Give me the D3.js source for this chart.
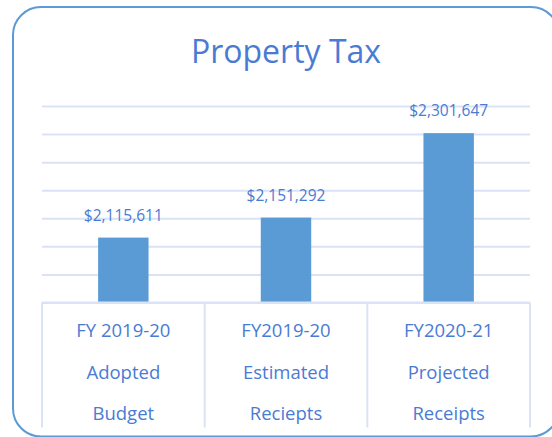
<!DOCTYPE html>
<html>
<head>
<meta charset="utf-8">
<script src="https://cdn.jsdelivr.net/npm/d3@7"></script>
<style>
  body { margin: 0; background: #fff; }
  text { font-family: "Open Sans", sans-serif; }
</style>
</head>
<body>
<div id="chart"></div>
<script>
var svgWidth = 552;
var svgHeight = 437;

// chart data
var categories = ["adopted", "estimated", "projected"];
var categoryLines = [
  ["FY 2019-20", "Adopted", "Budget"],
  ["FY2019-20", "Estimated", "Reciepts"],
  ["FY2020-21", "Projected", "Receipts"]
];
var values = [2115611, 2151292, 2301647];
var yTicks = [2000000, 2050000, 2100000, 2150000, 2200000, 2250000, 2300000, 2350000];

var margin = { top: 106, right: 22, bottom: 134.5, left: 42 };
var width = svgWidth - margin.left - margin.right;
var height = svgHeight - margin.top - margin.bottom;

var textColor = "#4a7bd4";
var gridColor = "#d9e3f5";

var svg = d3.select("#chart")
  .append("svg")
  .attr("width", svgWidth)
  .attr("height", svgHeight);

// outer rounded frame (runs past the right edge like the original)
svg.append("rect")
  .attr("x", 13)
  .attr("y", 7)
  .attr("width", 546)
  .attr("height", 429.5)
  .attr("rx", 28)
  .attr("fill", "none")
  .attr("stroke", "#5b9bd5")
  .attr("stroke-width", 2);

svg.append("text")
  .attr("x", 286)
  .attr("y", 63)
  .attr("text-anchor", "middle")
  .attr("font-size", 32)
  .attr("fill", textColor)
  .text("Property Tax");

var chartGroup = svg.append("g")
  .attr("transform", `translate(${margin.left}, ${margin.top})`);

var xScale = d3.scaleBand()
  .domain(categories)
  .range([0, width])
  .padding(0);

var yScale = d3.scaleLinear()
  .domain([2000000, 2350000])
  .range([height, 0]);

// horizontal gridlines
chartGroup.append("g")
  .call(d3.axisLeft(yScale).tickValues(yTicks).tickSize(-width).tickFormat(""))
  .call(g => g.select(".domain").remove())
  .call(g => g.selectAll(".tick line")
    .attr("stroke", gridColor)
    .attr("stroke-width", 2));

// bars
var barFrac = 0.31;
chartGroup.selectAll(".bar")
  .data(values)
  .enter()
  .append("rect")
  .attr("class", "bar")
  .attr("x", (d, i) => xScale(categories[i]) + xScale.bandwidth() * (1 - barFrac) / 2)
  .attr("width", xScale.bandwidth() * barFrac)
  .attr("y", d => yScale(d))
  .attr("height", d => height - yScale(d))
  .attr("fill", "#5b9bd5");

// value labels
chartGroup.selectAll(".val")
  .data(values)
  .enter()
  .append("text")
  .attr("class", "val")
  .attr("x", (d, i) => xScale(categories[i]) + xScale.bandwidth() / 2)
  .attr("y", d => yScale(d) - 17)
  .attr("text-anchor", "middle")
  .attr("font-size", 15.5)
  .attr("fill", textColor)
  .text(d => "$" + d3.format(",")(d));

// category axis with divider lines between categories
var xAxis = chartGroup.append("g")
  .attr("transform", `translate(0, ${height})`);

xAxis.append("line")
  .attr("x1", 0)
  .attr("x2", width)
  .attr("stroke", gridColor)
  .attr("stroke-width", 2);

var dividers = categories.map(c => xScale(c)).concat([width]);
xAxis.selectAll(".divider")
  .data(dividers)
  .enter()
  .append("line")
  .attr("class", "divider")
  .attr("x1", d => d)
  .attr("x2", d => d)
  .attr("y1", 0)
  .attr("y2", 125)
  .attr("stroke", gridColor)
  .attr("stroke-width", 2);

var catLabel = xAxis.selectAll(".cat")
  .data(categoryLines)
  .enter()
  .append("text")
  .attr("class", "cat")
  .attr("text-anchor", "middle")
  .attr("font-size", 18.5)
  .attr("fill", textColor);

catLabel.selectAll("tspan")
  .data((d, i) => d.map(t => ({ t: t, i: i })))
  .enter()
  .append("tspan")
  .attr("x", d => xScale(categories[d.i]) + xScale.bandwidth() / 2)
  .attr("y", (d, j) => 34.5 + j * 41.5)
  .text(d => d.t);
</script>
</body>
</html>
